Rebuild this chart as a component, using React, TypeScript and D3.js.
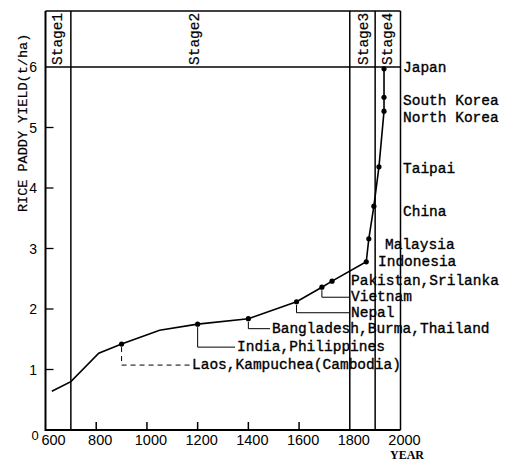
import React from "react";
import * as d3 from "d3";

// Trend curve (year, yield t/ha)
const curveYears = [625, 700, 810, 900, 1050, 1200, 1400, 1590, 1690, 1730, 1865, 1875, 1895, 1915, 1935, 1935, 1935];
const curveYields = [0.64, 0.8, 1.27, 1.42, 1.65, 1.75, 1.84, 2.12, 2.36, 2.46, 2.78, 3.16, 3.7, 4.35, 5.27, 5.5, 5.97];

// Countries (dots)
const countryNames = [
  "Laos,Kampuchea(Cambodia)",
  "India,Philippines",
  "Bangladesh,Burma,Thailand",
  "Nepal",
  "Vietnam",
  "Pakistan,Srilanka",
  "Indonesia",
  "Malaysia",
  "China",
  "Taipai",
  "North Korea",
  "South Korea",
  "Japan",
];
const countryYears = [900, 1200, 1400, 1590, 1690, 1730, 1865, 1875, 1895, 1915, 1935, 1935, 1935];
const countryYields = [1.42, 1.75, 1.84, 2.12, 2.36, 2.46, 2.78, 3.16, 3.7, 4.35, 5.27, 5.5, 5.97];

// Stages
const stageNames = ["Stage1", "Stage2", "Stage3", "Stage4"];
const stageLabelYears = [648, 1190, 1855, 1950];
const stageBoundaries = [700, 1800, 1900, 2000];

// Axis ticks
const xTicks = [600, 800, 1000, 1200, 1400, 1600, 1800, 2000];
const xMinorTicks = [800, 1000, 1200, 1400, 1600];
const yTicks = [1, 2, 3, 4, 5, 6];

// label layout (pixels): leader drop below dot, text x, baseline offset
const labelLayout = [
  { drop: 21, tx: 192, dy: 4, dash: "5,4" },
  { drop: 23, tx: 237, dy: 4 },
  { drop: 10, tx: 272, dy: 4 },
  { drop: 11, tx: 351, dy: 4 },
  { drop: 10, tx: 351, dy: 4 },
  { drop: 0, tx: 351, dy: 4, abs: 285 },
  { drop: 0, tx: 378, abs: 266 },
  { drop: 0, tx: 385, abs: 249 },
  { drop: 0, tx: 403, abs: 216 },
  { drop: 0, tx: 403, abs: 173 },
  { drop: 0, tx: 403, abs: 122 },
  { drop: 0, tx: 403, abs: 105 },
  { drop: 0, tx: 403, abs: 72 },
];

const W = 509;
const H = 462;
const mono = "'Liberation Mono', 'DejaVu Sans Mono', monospace";
const sans = "'Liberation Sans', Arial, sans-serif";

export default function App() {
  const x = d3.scaleLinear().domain([600, 2000]).range([45.5, 400.5]);
  const y = d3.scaleLinear().domain([0, 6]).range([430, 67]);
  const top = 11;

  const line = d3
    .line<number>()
    .x((_, i) => x(curveYears[i]))
    .y((_, i) => y(curveYields[i]));

  return (
    <svg width={W} height={H} style={{ position: "absolute", left: 0, top: 0, background: "#fff" }}>
      <rect x={0} y={0} width={W} height={H} fill="#fff" />
      {/* frame top */}
      <line x1={x(600)} x2={x(2000)} y1={top} y2={top} stroke="#000" strokeWidth={1.6} />
      {/* yield 6 line */}
      <line x1={x(600)} x2={x(2000)} y1={y(6)} y2={y(6)} stroke="#000" strokeWidth={1.6} />
      {/* stage boundaries */}
      {stageBoundaries.map((b) => (
        <line key={b} x1={x(b)} x2={x(b)} y1={top} y2={y(0)} stroke="#000" strokeWidth={1.5} />
      ))}
      {/* axes */}
      <line x1={x(600)} x2={x(600)} y1={top} y2={y(0) + 1} stroke="#000" strokeWidth={2} />
      <line x1={x(600)} x2={x(2000)} y1={y(0)} y2={y(0)} stroke="#000" strokeWidth={2} />
      {yTicks.filter((t) => t < 6).map((t) => (
        <line key={t} x1={x(600)} x2={x(600) + 8} y1={y(t)} y2={y(t)} stroke="#000" strokeWidth={1.3} />
      ))}
      {xMinorTicks.map((t) => (
        <line key={t} x1={x(t)} x2={x(t)} y1={y(0)} y2={y(0) - 8} stroke="#000" strokeWidth={1.5} />
      ))}
      {/* y tick labels */}
      {yTicks.map((t) => (
        <text key={t} x={37} y={y(t) + 5} textAnchor="end" fontFamily={sans} fontSize={14}>
          {t}
        </text>
      ))}
      <text x={35} y={440} textAnchor="middle" fontFamily={sans} fontSize={13}>0</text>
      {/* x tick labels */}
      {xTicks.map((t) => (
        <text key={t} x={x(t) + (t === 600 ? 8 : 4)} y={445} textAnchor="middle" fontFamily={sans} fontSize={14.5}>
          {t}
        </text>
      ))}
      <text x={407} y={459} textAnchor="middle" fontFamily="'Liberation Serif', serif" fontWeight="bold" fontSize={12}>
        YEAR
      </text>
      {/* y axis title */}
      <text
        transform={`translate(27,212) rotate(-90)`}
        fontFamily={mono}
        fontSize={13.5}
        stroke="#000"
        strokeWidth={0.2}
      >
        RICE PADDY YIELD(t/ha)
      </text>
      {/* stage labels */}
      {stageNames.map((s, i) => (
        <text
          key={s}
          transform={`translate(${x(stageLabelYears[i]) + 4},65) rotate(-90)`}
          fontFamily={mono}
          fontSize={14.5}
          stroke="#000"
          strokeWidth={0.2}
        >
          {s}
        </text>
      ))}
      {/* curve */}
      <path d={line(curveYears) || ""} fill="none" stroke="#000" strokeWidth={1.6} />
      {/* dots */}
      {countryYears.map((yr, i) => (
        <circle key={i} cx={x(yr)} cy={y(countryYields[i])} r={2.6} fill="#000" />
      ))}
      {/* leaders + labels */}
      {countryNames.map((name, i) => {
        const L = labelLayout[i];
        const cx = x(countryYears[i]);
        const cy = y(countryYields[i]);
        const ly = cy + L.drop;
        const baseline = L.abs !== undefined ? L.abs : ly + (L.dy || 4);
        return (
          <g key={name}>
            {L.drop > 0 && (
              <path
                d={`M${cx},${cy + 3}V${ly}H${L.tx - 2}`}
                fill="none"
                stroke="#000"
                strokeWidth={1}
                strokeDasharray={L.dash}
              />
            )}
            <text x={L.tx} y={baseline} fontFamily={mono} fontSize={14.5} stroke="#000" strokeWidth={0.35}>
              {name}
            </text>
          </g>
        );
      })}
    </svg>
  );
}
